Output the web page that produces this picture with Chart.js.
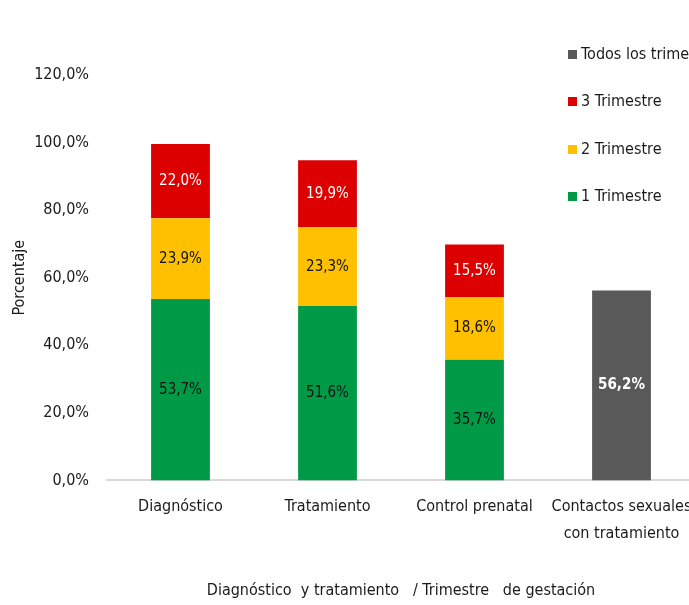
<!DOCTYPE html>
<html>
<head>
<meta charset="utf-8">
<script src="https://cdn.jsdelivr.net/npm/chart.js@4.4.0/dist/chart.umd.min.js"></script>
<style>
  html, body { margin: 0; padding: 0; background: #fff; overflow: hidden; }
  #wrap { width: 689px; height: 605px; overflow: hidden; }
  canvas { display: block; }
</style>
</head>
<body>
<div id="wrap"><canvas id="chart" width="740" height="605"></canvas></div>
<script>
const categories = ['Diagnóstico', 'Tratamiento', 'Control prenatal', ['Contactos sexuales', 'con tratamiento']];
const trim1 = [53.7, 51.6, 35.7, null];
const trim2 = [23.9, 23.3, 18.6, null];
const trim3 = [22.0, 19.9, 15.5, null];
const todos = [null, null, null, 56.2];
const yTicks = [0, 20, 40, 60, 80, 100, 120];

const FONT = '"DejaVu Sans Condensed", "Liberation Sans", sans-serif';
const fmt = v => v.toFixed(1).replace('.', ',') + '%';

// value labels inside each bar segment
const barLabels = {
  id: 'barLabels',
  afterDatasetsDraw(chart) {
    const ctx = chart.ctx;
    chart.data.datasets.forEach((ds, i) => {
      const meta = chart.getDatasetMeta(i);
      meta.data.forEach((bar, j) => {
        const v = ds.data[j];
        if (v == null) return;
        const mid = (bar.y + bar.base) / 2;
        ctx.save();
        ctx.fillStyle = ds.labelColor;
        ctx.font = (ds.labelBold ? 'bold ' : '') + '15px ' + FONT;
        ctx.textAlign = 'center';
        ctx.textBaseline = 'middle';
        ctx.fillText(fmt(v), bar.x, mid);
        ctx.restore();
      });
    });
  }
};

// legend drawn over the top right corner, reversed order
const sideLegend = {
  id: 'sideLegend',
  afterDraw(chart) {
    const ctx = chart.ctx;
    const ys = [55, 102, 150, 197];
    const order = [3, 2, 1, 0];
    ctx.save();
    ctx.font = '16px ' + FONT;
    ctx.textBaseline = 'middle';
    ctx.textAlign = 'left';
    order.forEach((di, k) => {
      const ds = chart.data.datasets[di];
      ctx.fillStyle = ds.backgroundColor;
      ctx.fillRect(568, ys[k] - 5, 9, 9);
      ctx.fillStyle = '#1a1a1a';
      ctx.fillText(ds.label, 581, ys[k]);
    });
    ctx.restore();
  }
};

new Chart(document.getElementById('chart').getContext('2d'), {
  type: 'bar',
  data: {
    labels: categories,
    datasets: [
      { label: '1 Trimestre', data: trim1, backgroundColor: '#009A46', labelColor: '#111' },
      { label: '2 Trimestre', data: trim2, backgroundColor: '#FFC000', labelColor: '#111' },
      { label: '3 Trimestre', data: trim3, backgroundColor: '#DC0000', labelColor: '#fff' },
      { label: 'Todos los trimestres', data: todos, backgroundColor: '#595959', labelColor: '#fff', labelBold: true }
    ]
  },
  options: {
    responsive: false,
    animation: false,
    layout: { padding: { top: 75, right: 45, left: 10, bottom: 5 } },
    datasets: { bar: { categoryPercentage: 1, barPercentage: 0.4 } },
    plugins: { legend: { display: false }, tooltip: { enabled: false } },
    scales: {
      x: {
        stacked: true,
        grid: { display: true, drawOnChartArea: false, drawTicks: false },
        border: { display: true, color: '#d9d9d9', width: 2 },
        ticks: { color: '#1a1a1a', font: { family: FONT, size: 16, lineHeight: 1.7 }, padding: 13, maxRotation: 0 },
        title: {
          display: true,
          text: 'Diagnóstico  y tratamiento   / Trimestre   de gestación',
          color: '#1a1a1a',
          font: { family: FONT, size: 16 },
          padding: { top: 20, bottom: 0 }
        }
      },
      y: {
        stacked: true,
        min: 0,
        max: 120,
        afterBuildTicks: s => { s.ticks = yTicks.map(v => ({ value: v })); },
        afterFit: s => { s.width = 97; },
        grid: { display: false },
        border: { display: false },
        ticks: { color: '#1a1a1a', font: { family: FONT, size: 16 }, padding: 10, callback: v => fmt(v) },
        title: {
          display: true,
          text: 'Porcentaje',
          color: '#1a1a1a',
          font: { family: FONT, size: 16 },
          padding: { top: 0, bottom: 0 }
        }
      }
    }
  },
  plugins: [barLabels, sideLegend]
});
</script>
</body>
</html>
